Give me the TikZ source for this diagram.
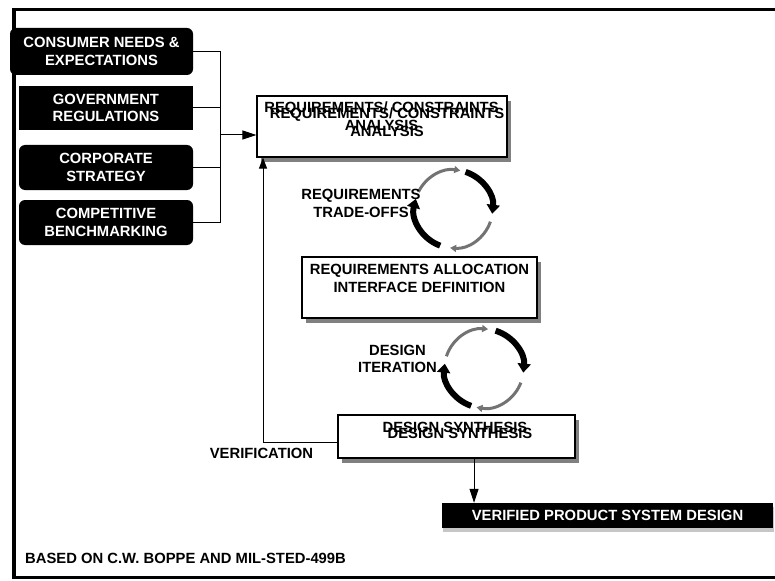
\documentclass[tikz,border=0pt]{standalone}
\usepackage{fontspec}
\setmainfont{Liberation Sans}
\usetikzlibrary{arrows.meta,shadows}
\begin{document}
\begin{tikzpicture}[x=1pt,y=-1pt,
  font=\fontsize{14.8}{17.5}\selectfont\bfseries,
  every node/.style={inner sep=0pt},
  srcbox/.style={fill=black,text=white,align=center,minimum width=174pt,minimum height=45pt},
  whitebox/.style={draw=black,line width=1.2pt,fill=white,
    drop shadow={shadow xshift=4pt,shadow yshift=-5pt,fill=black!50,opacity=1}},
  lbl/.style={align=center},
  conn/.style={line width=1pt},
  arr/.style={conn,-{Triangle[length=14pt,width=9pt]}},
  cyc/.style={line width=6pt,-{Triangle[length=9pt,width=13pt]}},
  cycg/.style={line width=3pt,draw=black!55,-{Triangle[length=6pt,width=7pt]}},
]
\useasboundingbox (0,0) rectangle (775,580);

% outer frame (open on the right)
\draw[line width=3.5pt] (775,9.5) -- (14,9.5) -- (14,577.5) -- (775,577.5);

% inputs
\node[srcbox,minimum width=183pt,minimum height=47pt,rounded corners=6pt] (b1) at (101.5,51.5) {CONSUMER NEEDS \&\\EXPECTATIONS};
\node[srcbox,minimum height=44pt] (b2) at (106,108) {GOVERNMENT\\REGULATIONS};
\node[srcbox,rounded corners=6pt] (b3) at (106,167.5) {CORPORATE\\STRATEGY};
\node[srcbox,rounded corners=6pt] (b4) at (106,222.5) {COMPETITIVE\\BENCHMARKING};

% process boxes
\node[whitebox,minimum width=250pt,minimum height=61pt] (req) at (382,126.5) {};
\node[lbl] (reqa) at ([xshift=-0.5pt,yshift=10.5pt]req.center) {REQUIREMENTS/ CONSTRAINTS\\ANALYSIS};
\node[lbl] (reqb) at ([xshift=5pt,yshift=4.5pt]req.center) {REQUIREMENTS/ CONSTRAINTS\\ANALYSIS};

\node[whitebox,minimum width=235pt,minimum height=61pt] (alloc) at (419.5,287.5) {};
\node[lbl] (alloct) at ([yshift=9pt]alloc.center) {REQUIREMENTS ALLOCATION\\INTERFACE DEFINITION};

\node[whitebox,minimum width=237pt,minimum height=43pt] (des) at (456.5,436.5) {};
\node[lbl] (desa) at ([xshift=-1.5pt,yshift=9.5pt]des.center) {DESIGN SYNTHESIS};
\node[lbl] (desb) at ([xshift=3.5pt,yshift=3.5pt]des.center) {DESIGN SYNTHESIS};

\node[fill=black,text=white,minimum width=331pt,minimum height=25pt,
  drop shadow={shadow xshift=1pt,shadow yshift=-4pt,fill=gray!45,opacity=1}] (ver) at (607.5,515.5) {VERIFIED PRODUCT SYSTEM DESIGN};

% input bus
\coordinate (bus) at (220,135);
\draw[conn] (b1.east) -| (bus |- b4.east) -- (b4.east);
\draw[conn] (b2.east) -- (bus |- b2.east);
\draw[conn] (b3.east) -- (bus |- b3.east);
\draw[arr] (bus) -- (req.west |- bus);

% verification loop and output
\coordinate (vturn) at (263,442);
\draw[conn,-{Triangle[length=11pt,width=8pt]}] (des.west |- vturn) -- (vturn) -- (vturn |- req.south);
\coordinate (dn) at (474,0);
\draw[arr] (dn |- des.south) -- (dn |- ver.north);

% iteration cycles
\coordinate (c1) at (453.5,209);
\draw[cyc]  (c1) ++(-72:39) arc[start angle=-72,end angle=7,radius=39];
\draw[cycg] (c1) ++(19:39)  arc[start angle=19,end angle=95,radius=39];
\draw[cyc]  (c1) ++(110:39) arc[start angle=110,end angle=195,radius=39];
\draw[cycg] (c1) ++(206:39) arc[start angle=206,end angle=280,radius=39];

\coordinate (c2) at (484,368.5);
\draw[cyc]  (c2) ++(-73:39.5) arc[start angle=-73,end angle=6,radius=39.5];
\draw[cycg] (c2) ++(21:39.5)  arc[start angle=21,end angle=101,radius=39.5];
\draw[cyc]  (c2) ++(109:39.5) arc[start angle=109,end angle=187,radius=39.5];
\draw[cycg] (c2) ++(198:39.5) arc[start angle=198,end angle=276,radius=39.5];

% labels
\node[lbl] (trade) at (361,203.5) {REQUIREMENTS\\TRADE-OFFS};
\node[lbl] (iter) at (397.5,359) {DESIGN\\ITERATION};
\node (verif) at (261.5,453) {VERIFICATION};
\node[anchor=west] (src) at (25,558) {BASED ON C.W. BOPPE AND MIL-STED-499B};
\end{tikzpicture}
\end{document}
